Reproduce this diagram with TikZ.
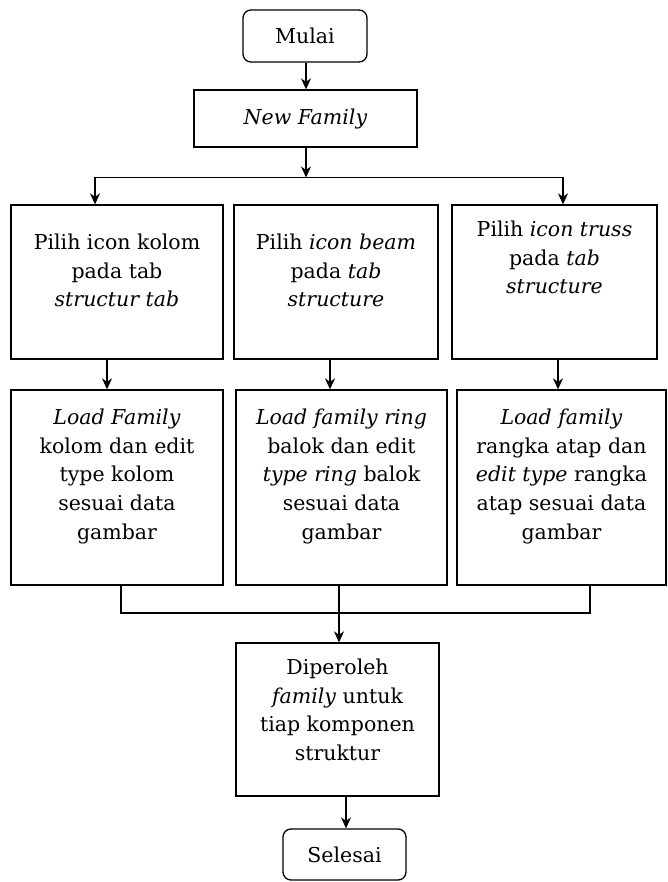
\documentclass[tikz,border=0pt]{standalone}
\usepackage{fontspec}
\setmainfont{DejaVu Serif}
\usetikzlibrary{arrows.meta}
\newcommand{\bx}[4]{\parbox[c][#2pt][t]{#1pt}{\centering\vspace*{#3pt}#4}}
\begin{document}
\begin{tikzpicture}[x=1pt,y=1pt,
  line width=1.3pt,
  every node/.style={font=\fontsize{20.5}{28.7}\selectfont},
  boxstyle/.style={draw, rectangle, inner sep=0pt},
  termstyle/.style={draw, rectangle, rounded corners=8pt, inner sep=0pt},
  arr/.style={-{Stealth[length=11pt,width=10pt,inset=3.5pt]}}]
\useasboundingbox (0,0) rectangle (667,-882);
\fill[white] (0,0) rectangle (667,-882);
% terminals and boxes
\node[termstyle, minimum width=124pt, minimum height=52pt] (mulai) at (305,-36) {Mulai};
\node[boxstyle, minimum width=223pt, minimum height=57pt] (nf) at (305.5,-118.5) {\textit{New Family}};
\node[boxstyle] (a1) at (117,-282) {\bx{212}{154}{29}{Pilih icon kolom\\ pada tab\\ \textit{structur tab}}};
\node[boxstyle] (b1) at (336,-282) {\bx{204}{154}{29}{Pilih \textit{icon beam}\\ pada \textit{tab}\\ \textit{structure}}};
\node[boxstyle] (c1) at (554.5,-282) {\bx{205}{154}{16}{Pilih \textit{icon truss}\\ pada \textit{tab}\\ \textit{structure}}};
\node[boxstyle] (a2) at (117,-487.5) {\bx{212}{195}{19}{\textit{Load Family}\\ kolom dan edit\\ type kolom\\ sesuai data\\ gambar}};
\node[boxstyle] (b2) at (341.5,-487.5) {\bx{211}{195}{19}{\textit{Load family ring}\\ balok dan edit\\ \textit{type ring} balok\\ sesuai data\\ gambar}};
\node[boxstyle] (c2) at (561.5,-487.5) {\bx{209}{195}{19}{\textit{Load family}\\ rangka atap dan\\ \textit{edit type} rangka\\ atap sesuai data\\ gambar}};
\node[boxstyle] (d) at (337.5,-719.5) {\bx{203}{153}{16}{Diperoleh\\ \textit{family} untuk\\ tiap komponen\\ struktur}};
\node[termstyle, minimum width=123pt, minimum height=51pt] (selesai) at (344.5,-854.5) {Selesai};
% connector points
\coordinate (split) at (306,-177.5);
\coordinate (hl) at (95,-177.5);
\coordinate (hr) at (563,-177.5);
\coordinate (ma) at (121,-613);
\coordinate (mb) at (339,-613);
\coordinate (mc) at (590,-613);
% connectors
\draw[arr] (mulai.south -| split) -- (nf.north -| split);
\draw[arr] (nf.south -| split) -- (split);
\draw (hl) -- (hr);
\draw[arr] (hl) -- (hl |- a1.north);
\draw[arr] (hr) -- (hr |- c1.north);
\draw[arr] ([xshift=-10pt]a1.south) -- ([xshift=-10pt]a1.south |- a2.north);
\draw[arr] ([xshift=-6pt]b1.south) -- ([xshift=-6pt]b1.south |- b2.north);
\draw[arr] ([xshift=3.5pt]c1.south) -- ([xshift=3.5pt]c1.south |- c2.north);
\draw (ma |- a2.south) -- (ma) -- (mc) -- (mc |- c2.south);
\draw[arr] (mb |- b2.south) -- (mb |- d.north);
\draw[arr] ([xshift=8.5pt]d.south) -- ([xshift=8.5pt]d.south |- selesai.north);
\end{tikzpicture}
\end{document}
